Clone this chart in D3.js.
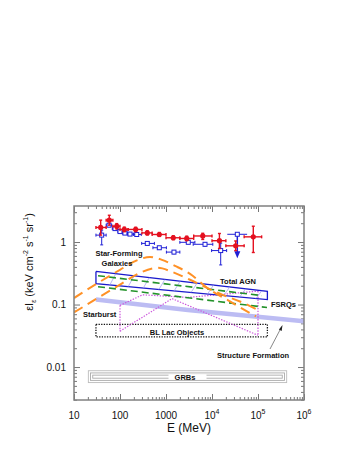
<!DOCTYPE html>
<html>
<head>
<meta charset="utf-8">
<script src="https://cdnjs.cloudflare.com/ajax/libs/d3/7.8.5/d3.min.js"></script>
<style>
  body { margin: 0; background: #fff; }
  svg { font-family: "Liberation Sans", Arial, sans-serif; }
</style>
</head>
<body>
<div id="chart"></div>
<script>
// EGRET points (red, filled) - energy bin and intensity with errors
const redE = [38, 58.5, 85, 124, 219, 392, 715, 1440, 2820, 6290, 14500, 32700, 79000];
const redElo = [30, 50, 70, 100, 150, 300, 500, 1000, 2000, 4000, 1e4, 2e4, 5e4];
const redEhi = [50, 70, 100, 150, 300, 500, 1000, 2000, 4000, 1e4, 2e4, 5e4, 1.2e5];
const redI = [1.71, 2.24, 1.79, 1.59, 1.59, 1.4, 1.32, 1.17, 1.14, 1.25, 1.05, 0.87, 1.21];
const redIlo = [1.29, 1.86, 1.62, 1.46, 1.47, 1.3, 1.23, 1.09, 1.05, 1.1, 0.79, 0.73, 0.68];
const redIhi = [2.24, 2.68, 1.97, 1.73, 1.72, 1.51, 1.42, 1.26, 1.24, 1.38, 1.37, 1.04, 1.79];

// Reanalysis points (blue, open)
const blueE = [40, 57.7, 77.8, 100, 128, 165, 231, 392, 715, 1490, 3050, 7050, 15450];
const blueElo = [30, 50, 68, 90, 113, 146, 195, 296, 520, 1020, 2000, 3900, 9800];
const blueEhi = [50, 66, 90, 113, 146, 195, 290, 560, 1020, 2000, 4250, 10400, 20800];
const blueI = [1.29, 1.86, 1.64, 1.47, 1.39, 1.34, 1.32, 0.95, 0.81, 0.69, 0.99, 0.92, 0.73];
const blueIlo = [0.9, 1.76, 1.56, 1.4, 1.33, 1.28, 1.26, 0.9, 0.77, 0.65, 0.94, 0.86, 0.43];
const blueIhi = [1.55, 1.96, 1.72, 1.54, 1.45, 1.4, 1.38, 1.0, 0.85, 0.73, 1.04, 0.98, 0.96];
// Upper limit: [E, Elo, Ehi, I, arrow end]
const blueLimit = [35500, 21500, 58000, 1.33, 0.55];

// Model curves [E (MeV), eI]
const starForming = [[10, 0.127], [36.7, 0.232], [100, 0.36], [246, 0.518], [449, 0.578],
  [818, 0.518], [1570, 0.416], [3330, 0.31], [7790, 0.186], [24600, 0.112], [90500, 0.0645]];
const starburst = [[10, 0.0746], [36.7, 0.134], [100, 0.208], [272, 0.322], [670, 0.387],
  [1350, 0.334], [3330, 0.249], [16500, 0.144], [40600, 0.112], [95000, 0.0833]];
const fsrqUpper = [[33.3, 0.289], [1.22e5, 0.139]];
const fsrqLower = [[33.3, 0.193], [1.57e5, 0.0896]];
const agnTop = [[30, 0.338], [1.6e5, 0.163]];
const agnBottom = [[30, 0.215], [1.6e5, 0.12]];
const agnHatch = [60, 150, 320, 700, 1500, 3500, 8000, 18000, 40000, 90000];
const blLacUpper = [[100, 0.097], [310, 0.143], [3000, 0.13], [1e5, 0.164]];
const blLacLower = [[100, 0.0373], [1350, 0.1245], [1e5, 0.0322]];
const structure = [[30, 0.12], [3000, 0.082], [1e6, 0.054]];

// Label boxes [Elo, Ehi, Ilo, Ihi]
const blLacBox = [30, 1.6e5, 0.0303, 0.0482];
const grbBox = [20.5, 4.2e5, 0.00564, 0.00873];

// Axis ticks
const xMajor = [10, 100, 1000, 1e4, 1e5, 1e6];
const xLabels = [["10", ""], ["100", ""], ["1000", ""], ["10", "4"], ["10", "5"], ["10", "6"]];
const yMajor = [0.01, 0.1, 1];
const yLabels = ["0.01", "0.1", "1"];

const margin = { left: 74, top: 206 };
const width = 230;
const height = 194;

const svg = d3.select("#chart").append("svg")
  .attr("width", 351).attr("height", 458);

const g = svg.append("g")
  .attr("transform", `translate(${margin.left},${margin.top})`);

const x = d3.scaleLog().domain([10, 1e6]).range([0, width]);
const y = d3.scaleLog().domain([0.00297, 3.77]).range([height, 0]);

const line = d3.line().x((d) => x(d[0])).y((d) => y(d[1]));

// minor tick values
const minorX = [];
for (let p = 1; p < 6; p++) for (let m = 2; m <= 9; m++) minorX.push(m * 10 ** p);
const minorY = [];
for (let p = -3; p <= 0; p++) for (let m = 1; m <= 9; m++) {
  const v = m * 10 ** p;
  if (m > 1 && v > 0.00297 && v < 3.77) minorY.push(v);
}

const tickColor = "#777";
const drawTicks = (axisFn, scale, values, size, transform) => {
  const a = g.append("g")
    .attr("transform", transform)
    .call(axisFn(scale).tickValues(values).tickSize(-size).tickFormat(""));
  a.select(".domain").remove();
  a.selectAll("line").attr("stroke", tickColor).attr("stroke-width", 1);
};
drawTicks(d3.axisBottom, x, xMajor, 6, `translate(0,${height})`);
drawTicks(d3.axisBottom, x, minorX, 3, `translate(0,${height})`);
drawTicks(d3.axisTop, x, xMajor, 6, "translate(0,0)");
drawTicks(d3.axisTop, x, minorX, 3, "translate(0,0)");
drawTicks(d3.axisLeft, y, yMajor, 6, "translate(0,0)");
drawTicks(d3.axisLeft, y, minorY, 3, "translate(0,0)");
drawTicks(d3.axisRight, y, yMajor, 6, `translate(${width},0)`);
drawTicks(d3.axisRight, y, minorY, 3, `translate(${width},0)`);

// Clip
g.append("defs").append("clipPath").attr("id", "clip")
  .append("rect").attr("width", width).attr("height", height);
const area = g.append("g").attr("clip-path", "url(#clip)");

// GRB nested boxes
const grbX0 = x(grbBox[0]), grbX1 = x(grbBox[1]);
const grbY0 = y(grbBox[3]), grbY1 = y(grbBox[2]);
[0, 2.2, 4.4].forEach((inset, i) => {
  area.append("rect")
    .attr("x", grbX0 + inset).attr("y", grbY0 + inset)
    .attr("width", grbX1 - grbX0 - 2 * inset)
    .attr("height", grbY1 - grbY0 - 2 * inset)
    .attr("fill", "none")
    .attr("stroke", i === 0 ? "#bbb" : "#aaa")
    .attr("stroke-width", 0.9);
});
area.append("rect")
  .attr("x", (grbX0 + grbX1) / 2 - 19).attr("y", grbY0 + 3.5)
  .attr("width", 38).attr("height", grbY1 - grbY0 - 7)
  .attr("fill", "#fff");

// Structure formation band
area.append("path").datum(structure)
  .attr("d", line)
  .attr("fill", "none").attr("stroke", "#bcbcf3").attr("stroke-width", 4.5);

// BL Lac box
area.append("rect")
  .attr("x", x(blLacBox[0])).attr("y", y(blLacBox[3]))
  .attr("width", x(blLacBox[1]) - x(blLacBox[0]))
  .attr("height", y(blLacBox[2]) - y(blLacBox[3]))
  .attr("fill", "none").attr("stroke", "#111")
  .attr("stroke-width", 1.3).attr("stroke-dasharray", "1.3,1.3");

// BL Lac envelope (magenta dotted)
const blLacStyle = (sel) => sel.attr("fill", "none").attr("stroke", "#cc55dd")
  .attr("stroke-width", 1.2).attr("stroke-dasharray", "1.4,1.4");
area.append("path").datum(blLacUpper).attr("d", line).call(blLacStyle);
area.append("path").datum(blLacLower).attr("d", line).call(blLacStyle);
[0, 1].forEach((end) => {
  const u = end ? blLacUpper[blLacUpper.length - 1] : blLacUpper[0];
  const l = end ? blLacLower[blLacLower.length - 1] : blLacLower[0];
  area.append("path").datum([u, l]).attr("d", line).call(blLacStyle);
});

// Total AGN box
area.append("path")
  .datum([...agnTop, ...agnBottom.slice().reverse(), agnTop[0]])
  .attr("d", line)
  .attr("fill", "none").attr("stroke", "#1a1acc").attr("stroke-width", 1.3);
const agnAt = (pts, e) => {
  const t = (Math.log10(e) - Math.log10(pts[0][0])) /
    (Math.log10(pts[1][0]) - Math.log10(pts[0][0]));
  return 10 ** (Math.log10(pts[0][1]) + t * (Math.log10(pts[1][1]) - Math.log10(pts[0][1])));
};
agnHatch.forEach((e) => {
  const e2 = Math.min(e * 1.35, agnTop[1][0]);
  area.append("line")
    .attr("x1", x(e)).attr("y1", y(agnAt(agnBottom, e)))
    .attr("x2", x(e2)).attr("y2", y(agnAt(agnTop, e2)))
    .attr("stroke", "#9a9af0").attr("stroke-width", 0.7);
});

// FSRQs (green dashed)
[fsrqUpper, fsrqLower].forEach((d) => {
  area.append("path").datum(d).attr("d", line)
    .attr("fill", "none").attr("stroke", "#23922a")
    .attr("stroke-width", 1.6).attr("stroke-dasharray", "7,4");
});

// Star-forming and starburst galaxies (orange dashed)
[starForming, starburst].forEach((d) => {
  area.append("path").datum(d).attr("d", line.curve(d3.curveMonotoneX))
    .attr("fill", "none").attr("stroke", "#ff9126")
    .attr("stroke-width", 2).attr("stroke-dasharray", "10,6");
});
line.curve(d3.curveLinear);

// Data points with error bars
const drawPoints = (E, Elo, Ehi, I, Ilo, Ihi, color, w, filled) => {
  const pg = area.append("g").attr("stroke", color).attr("stroke-width", w);
  E.forEach((e, i) => {
    const cx = x(e), cy = y(I[i]);
    pg.append("line").attr("x1", x(Elo[i])).attr("x2", x(Ehi[i])).attr("y1", cy).attr("y2", cy);
    pg.append("line").attr("x1", cx).attr("x2", cx).attr("y1", y(Ilo[i])).attr("y2", y(Ihi[i]));
    // caps
    [Elo[i], Ehi[i]].forEach((v) => pg.append("line")
      .attr("x1", x(v)).attr("x2", x(v)).attr("y1", cy - 1.5).attr("y2", cy + 1.5));
    [Ilo[i], Ihi[i]].forEach((v) => pg.append("line")
      .attr("x1", cx - 1.5).attr("x2", cx + 1.5).attr("y1", y(v)).attr("y2", y(v)));
    if (filled) {
      pg.append("circle").attr("cx", cx).attr("cy", cy).attr("r", 2.6)
        .attr("fill", color).attr("stroke", "none");
    } else {
      pg.append("rect").attr("x", cx - 2).attr("y", cy - 2).attr("width", 4).attr("height", 4)
        .attr("fill", "#fff").attr("stroke-width", 1);
    }
  });
  return pg;
};
const bg = drawPoints(blueE, blueElo, blueEhi, blueI, blueIlo, blueIhi, "#1f1fd6", 1, false);
// upper limit with arrow
const ulx = x(blueLimit[0]), uly = y(blueLimit[3]), ulEnd = y(blueLimit[4]);
bg.append("line").attr("x1", x(blueLimit[1])).attr("x2", x(blueLimit[2])).attr("y1", uly).attr("y2", uly);
bg.append("line").attr("x1", ulx).attr("x2", ulx).attr("y1", uly).attr("y2", ulEnd - 5).attr("stroke-width", 1.5);
bg.append("path")
  .attr("d", `M${ulx - 3},${ulEnd - 7} L${ulx + 3},${ulEnd - 7} L${ulx},${ulEnd} Z`)
  .attr("fill", "#1f1fd6").attr("stroke", "none");
bg.append("rect").attr("x", ulx - 2).attr("y", uly - 2).attr("width", 4).attr("height", 4)
  .attr("fill", "#fff");
drawPoints(redE, redElo, redEhi, redI, redIlo, redIhi, "#e4101f", 1.4, true);

// Frame
g.append("rect").attr("width", width).attr("height", height)
  .attr("fill", "none").attr("stroke", "#808080").attr("stroke-width", 1.5);

// Labels inside plot
const label = (txt, px, py, anchor = "middle") => g.append("text")
  .attr("x", px - margin.left).attr("y", py - margin.top)
  .attr("text-anchor", anchor)
  .attr("font-size", 7.5).attr("font-weight", "bold").attr("fill", "#111")
  .text(txt);
label("Star-Forming", 119, 256);
label("Galaxies", 117, 265.5);
label("Starburst", 83, 316.5, "start");
label("Total AGN", 238, 284);
label("FSRQs", 271, 307, "start");
label("BL Lac Objects", 177, 334.5);
label("Structure Formation", 253, 358);
label("GRBs", 185, 380);

// Structure formation pointer
g.append("line")
  .attr("x1", 270 - margin.left).attr("y1", 349 - margin.top)
  .attr("x2", 281 - margin.left).attr("y2", 328 - margin.top)
  .attr("stroke", "#555").attr("stroke-width", 0.7);
g.append("path")
  .attr("d", `M${282.5 - margin.left},${325 - margin.top} l-3.6,4.6 l2.8,1.4 Z`)
  .attr("fill", "#222");

// X tick labels
xMajor.forEach((v, i) => {
  const t = g.append("text")
    .attr("x", x(v)).attr("y", height + 19)
    .attr("text-anchor", "middle").attr("font-size", 10).attr("fill", "#111");
  t.append("tspan").text(xLabels[i][0]);
  if (xLabels[i][1]) {
    t.append("tspan").attr("dy", -5).attr("font-size", 7).text(xLabels[i][1]);
  }
});
// Y tick labels
yMajor.forEach((v, i) => {
  g.append("text")
    .attr("x", -8).attr("y", y(v) + 3.5)
    .attr("text-anchor", "end").attr("font-size", 10).attr("fill", "#111")
    .text(yLabels[i]);
});

// Axis titles
svg.append("text")
  .attr("x", margin.left + width / 2).attr("y", 432)
  .attr("text-anchor", "middle").attr("font-size", 12).attr("fill", "#111")
  .text("E (MeV)");

const yt = svg.append("text")
  .attr("transform", "translate(33,262) rotate(-90)")
  .attr("text-anchor", "middle").attr("font-size", 11).attr("fill", "#111");
yt.append("tspan").text("εI");
yt.append("tspan").attr("font-size", 7).attr("dy", 3).text("ε");
yt.append("tspan").attr("dy", -3).text(" (keV cm");
yt.append("tspan").attr("font-size", 7).attr("dy", -5).text("-2");
yt.append("tspan").attr("dy", 5).text(" s");
yt.append("tspan").attr("font-size", 7).attr("dy", -5).text("-1");
yt.append("tspan").attr("dy", 5).text(" sr");
yt.append("tspan").attr("font-size", 7).attr("dy", -5).text("-1");
yt.append("tspan").attr("dy", 5).text(")");
</script>
</body>
</html>
